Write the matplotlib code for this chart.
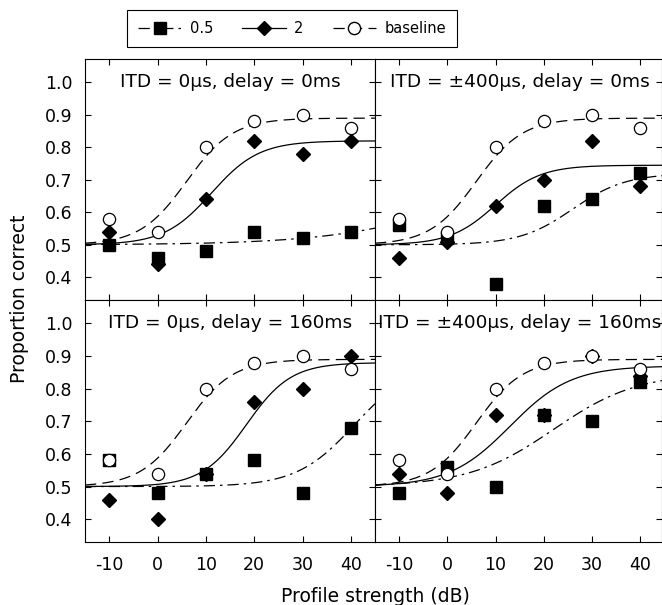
import numpy as np
import matplotlib
matplotlib.use("Agg")
import matplotlib.pyplot as plt
from matplotlib.lines import Line2D

plt.rcParams.update({
    "font.family": ["DejaVu Sans"],
    "font.size": 12,
    "axes.unicode_minus": False,
    "axes.linewidth": 0.8,
    "xtick.direction": "in",
    "ytick.direction": "in",
    "xtick.top": True,
    "ytick.right": True,
    "xtick.major.size": 4.5,
    "ytick.major.size": 4.5,
    "xtick.major.width": 0.8,
    "ytick.major.width": 0.8,
})

# profile strength (dB) and proportion correct
strength = [-10, 0, 10, 20, 30, 40]
baseline = [0.58, 0.54, 0.80, 0.88, 0.90, 0.86]

half_itd0_d0 = [0.50, 0.46, 0.48, 0.54, 0.52, 0.54]
two_itd0_d0 = [0.54, 0.44, 0.64, 0.82, 0.78, 0.82]
half_itd400_d0 = [0.56, 0.52, 0.38, 0.62, 0.64, 0.72]
two_itd400_d0 = [0.46, 0.51, 0.62, 0.70, 0.82, 0.68]
half_itd0_d160 = [0.58, 0.48, 0.54, 0.58, 0.48, 0.68]
two_itd0_d160 = [0.46, 0.40, 0.54, 0.76, 0.80, 0.90]
half_itd400_d160 = [0.48, 0.56, 0.50, 0.72, 0.70, 0.82]
two_itd400_d160 = [0.54, 0.48, 0.72, 0.72, 0.90, 0.84]

# logistic fits: [upper asymptote, midpoint (dB), spread (dB)]
fit_baseline = [0.89, 6.0, 4.8]
fit_half_itd0_d0 = [0.75, 64.0, 14.0]
fit_two_itd0_d0 = [0.82, 11.2, 4.9]
fit_half_itd400_d0 = [0.72, 26.0, 5.5]
fit_two_itd400_d0 = [0.745, 10.0, 4.7]
fit_half_itd0_d160 = [0.88, 40.8, 6.0]
fit_two_itd0_d160 = [0.88, 18.4, 4.6]
fit_half_itd400_d160 = [0.85, 22.0, 8.8]
fit_two_itd400_d160 = [0.87, 13.0, 6.3]

titles = ["ITD = 0\u03bcs, delay = 0ms", "ITD = \u00b1400\u03bcs, delay = 0ms",
          "ITD = 0\u03bcs, delay = 160ms", "ITD = \u00b1400\u03bcs, delay = 160ms"]
yticks = [0.4, 0.5, 0.6, 0.7, 0.8, 0.9, 1.0]


def psy(x, p):
    top, mid, spread = p
    return 0.5 + (top - 0.5) / (1.0 + np.exp(-(x - mid) / spread))


DASH = (0, (9, 5))
DASHDOT = (0, (9, 4, 2, 4))

W, H = 662, 605
fig = plt.figure(figsize=(W / 100, H / 100), dpi=100)

x0, xm, x1 = 85 / W, 375 / W, 1.0
yb, ym, yt = 1 - 542 / H, 1 - 300 / H, 1 - 59 / H
rects = [(x0, ym, xm - x0, yt - ym), (xm, ym, x1 - xm, yt - ym),
         (x0, yb, xm - x0, ym - yb), (xm, yb, x1 - xm, ym - yb)]

halves = [half_itd0_d0, half_itd400_d0, half_itd0_d160, half_itd400_d160]
twos = [two_itd0_d0, two_itd400_d0, two_itd0_d160, two_itd400_d160]
half_fits = [fit_half_itd0_d0, fit_half_itd400_d0, fit_half_itd0_d160, fit_half_itd400_d160]
two_fits = [fit_two_itd0_d0, fit_two_itd400_d0, fit_two_itd0_d160, fit_two_itd400_d160]

for i, rect in enumerate(rects):
    ax = fig.add_axes(rect)
    right = i % 2 == 1
    xmax = 44.5 if right else 45.0
    xs = np.linspace(-15, xmax, 300)

    ax.plot(xs, psy(xs, half_fits[i]), color="black", lw=0.9, ls=DASHDOT, zorder=2)
    ax.plot(xs, psy(xs, two_fits[i]), color="black", lw=0.9, ls="-", zorder=2)
    ax.plot(xs, psy(xs, fit_baseline), color="black", lw=0.9, ls=DASH, zorder=2)

    ax.plot(strength, halves[i], ls="none", marker="s", ms=8.4, color="black", zorder=3)
    ax.plot(strength, twos[i], ls="none", marker="D", ms=7.0, color="black", zorder=4)
    ax.plot(strength, baseline, ls="none", marker="o", ms=8.8, mfc="white",
            mec="black", mew=0.9, zorder=5)

    ax.text(15, 1.0, titles[i], ha="center", va="center", fontsize=13.3, zorder=6)

    ax.set_xlim(-15, xmax)
    ax.set_ylim(0.33, 1.072)
    ax.set_xticks(strength)
    ax.set_yticks(yticks)
    ax.set_yticklabels([f"{v:.1f}" for v in yticks])
    ax.tick_params(axis="x", labelsize=12.5, pad=10)
    ax.tick_params(axis="y", labelsize=12.5, pad=9)
    ax.tick_params(labelleft=not right, labelbottom=i >= 2)

fig.text(19.5 / W, 1 - 299 / H, "Proportion correct", rotation=90, ha="center",
         va="center", fontsize=13.5)
fig.text(375 / W, 1 - 597 / H, "Profile strength (dB)", ha="center", va="center",
         fontsize=13.5)

handles = [
    Line2D([], [], color="black", lw=0.9, ls=DASHDOT, marker="s", ms=8.0),
    Line2D([], [], color="black", lw=0.9, ls="-", marker="D", ms=7.0),
    Line2D([], [], color="black", lw=0.9, ls=DASH, marker="o", ms=8.8, mfc="white"),
]
leg = fig.legend(handles, ["0.5", "2", "baseline"], loc="center", ncol=3,
                 bbox_to_anchor=(292 / W, 1 - 28.5 / H), fontsize=10.5,
                 frameon=True, fancybox=False, edgecolor="black", framealpha=1,
                 handlelength=3.0, columnspacing=2.0, handletextpad=0.55,
                 borderpad=0.75, borderaxespad=0)
leg.get_frame().set_linewidth(0.8)

fig.savefig("out.png", dpi=100)
